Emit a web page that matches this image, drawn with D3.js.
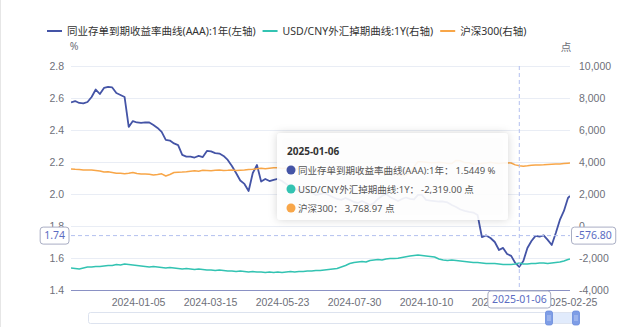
<!DOCTYPE html>
<html><head><meta charset="utf-8">
<script src="https://cdn.jsdelivr.net/npm/d3@7"></script>
<style>
html,body{margin:0;padding:0;background:#fff;}
svg{display:block;font-family:"Noto Sans","Noto Sans CJK SC",sans-serif;}
</style></head><body>
<svg id="c" width="640" height="327"></svg>
<script>
// ---------------- data ----------------
const seriesNames = ["同业存单到期收益率曲线(AAA):1年(左轴)", "USD/CNY外汇掉期曲线:1Y(右轴)", "沪深300(右轴)"];
const tooltipNames = ["同业存单到期收益率曲线(AAA):1年", "USD/CNY外汇掉期曲线:1Y", "沪深300"];
const tooltipUnits = [" %", " 点", " 点"];
const startDate = "2023-11-01", endDate = "2025-02-25", stepDays = 4;
const xTickLabels = ["2024-01-05","2024-03-15","2024-05-23","2024-07-30","2024-10-10","2024-12-16","2025-02-25"];
const leftTicks = [1.4,1.6,1.8,2.0,2.2,2.4,2.6,2.8];
const rightTicks = [-4000,-2000,0,2000,4000,6000,8000,10000];
const leftUnit = "%", rightUnit = "点";

const ncdYield = [
 2.573,2.581,2.569,2.566,2.575,2.606,2.653,2.625,2.663,2.669,
 2.666,2.631,2.619,2.606,2.419,2.456,2.447,2.444,2.447,2.447,
 2.431,2.413,2.388,2.338,2.334,2.316,2.306,2.244,2.234,2.234,
 2.228,2.238,2.231,2.269,2.266,2.256,2.253,2.238,2.213,2.175,
 2.131,2.084,2.063,2.019,2.131,2.181,2.078,2.094,2.081,2.088,
 2.094,2.081,2.063,2.044,2.031,2.025,2.013,2.019,2.006,1.994,
 2.000,2.006,1.994,1.981,1.969,1.963,1.975,1.963,1.950,1.944,
 1.956,1.944,1.931,1.944,1.969,1.988,2.000,1.981,1.969,1.956,
 1.969,1.978,1.969,1.966,1.994,1.994,1.963,1.959,1.956,1.953,
 1.953,1.947,1.931,1.919,1.903,1.894,1.888,1.884,1.869,1.731,
 1.741,1.725,1.700,1.650,1.663,1.625,1.613,1.569,1.5449,1.581,
 1.663,1.706,1.738,1.734,1.741,1.713,1.681,1.756,1.838,1.894,
 1.975,1.988];

const usdCnySwap = [
 -2625,-2656,-2688,-2625,-2563,-2563,-2531,-2531,-2500,-2469,
 -2469,-2406,-2438,-2375,-2406,-2438,-2469,-2500,-2531,-2563,
 -2531,-2563,-2594,-2625,-2594,-2625,-2656,-2688,-2656,-2688,
 -2719,-2688,-2719,-2750,-2750,-2781,-2750,-2781,-2813,-2813,
 -2844,-2813,-2844,-2875,-2844,-2875,-2875,-2906,-2875,-2906,
 -2875,-2906,-2875,-2844,-2875,-2844,-2844,-2813,-2813,-2781,
 -2781,-2750,-2719,-2688,-2656,-2563,-2469,-2344,-2281,-2250,
 -2219,-2250,-2156,-2125,-2094,-2125,-2063,-2031,-2031,-2019,
 -1969,-1919,-1875,-1844,-1813,-1844,-1875,-1906,-1938,-2063,
 -2125,-2156,-2125,-2156,-2188,-2219,-2250,-2281,-2281,-2313,
 -2344,-2344,-2344,-2375,-2406,-2406,-2406,-2375,-2319,-2375,
 -2375,-2344,-2344,-2313,-2313,-2344,-2313,-2281,-2250,-2188,
 -2094,-2063];

const hs300 = [
 3563,3544,3531,3500,3500,3500,3469,3438,3375,3394,
 3344,3294,3294,3269,3294,3344,3281,3250,3250,3231,
 3188,3219,3263,3125,3219,3344,3363,3375,3394,3425,
 3450,3425,3481,3469,3456,3481,3500,3469,3481,3500,
 3469,3488,3500,3531,3544,3575,3606,3575,3606,3638,
 3644,3600,3620,3580,3570,3560,3550,3520,3500,3460,
 3460,3470,3450,3430,3470,3490,3440,3390,3400,3390,
 3350,3340,3330,3340,3310,3300,3320,3240,3230,3180,
 3160,3200,3350,3700,4017,4017,3990,3960,3960,3980,
 3960,3900,3900,4100,4080,3960,3950,3870,3880,3920,
 3930,3980,3930,3910,3930,3950,3940,3820,3768.97,3740,
 3760,3790,3810,3820,3830,3850,3860,3870,3880,3900,
 3920,3930];

const pointerDate = "2025-01-06";
const pointerLeft = 1.74, pointerRight = -576.80;

// ---------------- layout / style ----------------
const colors = ["#4454a6", "#33c3b2", "#f8a648"];
const W = 640, H = 327;
const plotL = 71, plotR = 570, plotT = 66, plotB = 290, firstTickX = 138;

const parse = d3.timeParse("%Y-%m-%d");
const dates = d3.timeDay.range(parse(startDate), parse(endDate), stepDays);
dates.push(parse(endDate));

const locale = d3.formatLocale({decimal: ".", thousands: ",", grouping: [3], currency: ["", ""], minus: "-"});
const fmtR = locale.format(",");
const fmt2 = locale.format(",.2f");

const tickStep = (plotR - firstTickX) / (xTickLabels.length - 1);
const x = d3.scaleTime()
  .domain([parse(startDate), ...xTickLabels.map(parse)])
  .range([plotL, ...xTickLabels.map((d, i) => firstTickX + i * tickStep)]);
const yL = d3.scaleLinear().domain([1.4, 2.8]).range([plotB, plotT]);
const yR = d3.scaleLinear().domain([-4000, 10000]).range([plotB, plotT]);

const svg = d3.select("#c");
const defs = svg.append("defs");
defs.append("clipPath").attr("id", "clip").append("rect")
  .attr("x", plotL).attr("y", plotT - 5).attr("width", plotR - plotL).attr("height", plotB - plotT + 10);
const f = defs.append("filter").attr("id", "sh").attr("x", "-20%").attr("y", "-20%").attr("width", "140%").attr("height", "140%");
f.append("feDropShadow").attr("dx", 0).attr("dy", 0).attr("stdDeviation", 4).attr("flood-color", "#000").attr("flood-opacity", 0.18);

// left border line
svg.append("line").attr("x1", 0.5).attr("x2", 0.5).attr("y1", 0).attr("y2", H).attr("stroke", "#e6e6e6");

// grid
svg.append("g").selectAll("line").data(leftTicks.slice(1)).join("line")
  .attr("x1", plotL).attr("x2", plotR)
  .attr("y1", d => Math.round(yL(d)) + 0.5).attr("y2", d => Math.round(yL(d)) + 0.5)
  .attr("stroke", "#e9edf5").attr("stroke-width", 1);

// left axis labels
const axL = d3.axisLeft(yL).tickValues(leftTicks).tickFormat(d3.format(".1f")).tickSize(0).tickPadding(7);
const gL = svg.append("g").attr("transform", `translate(${plotL},0)`).call(axL);
gL.select(".domain").remove();
gL.selectAll("text").attr("fill", "#6e7079").attr("font-size", 10.5);

const axR = d3.axisRight(yR).tickValues(rightTicks).tickFormat(fmtR).tickSize(0).tickPadding(9);
const gR = svg.append("g").attr("transform", `translate(${plotR},0)`).call(axR);
gR.select(".domain").remove();
gR.selectAll("text").attr("fill", "#6e7079").attr("font-size", 10.5);

// units
svg.append("text").attr("x", plotL + 3).attr("y", 50).attr("text-anchor", "middle")
  .attr("font-size", 10.5).attr("fill", "#6e7079").text(leftUnit);
svg.append("text").attr("x", plotR - 4).attr("y", 51).attr("text-anchor", "middle")
  .attr("font-size", 10.5).attr("fill", "#6e7079").text(rightUnit);

// x axis
const axX = d3.axisBottom(x).tickValues(xTickLabels.map(parse)).tickFormat(d3.timeFormat("%Y-%m-%d")).tickSize(0).tickPadding(9);
const gX = svg.append("g").attr("transform", `translate(0,${plotB})`).call(axX);
gX.select(".domain").remove();
gX.selectAll("text").attr("fill", "#6e7079").attr("font-size", 10.5);
svg.append("line").attr("x1", plotL).attr("x2", plotR).attr("y1", plotB + 0.5).attr("y2", plotB + 0.5)
  .attr("stroke", "#8a91c4").attr("stroke-width", 1);

// series
const plot = svg.append("g").attr("clip-path", "url(#clip)");
const series = [
  {vals: ncdYield, y: yL, w: 1.8},
  {vals: usdCnySwap, y: yR, w: 1.5},
  {vals: hs300, y: yR, w: 1.5}
];
series.forEach((s, i) => {
  const line = d3.line().x((d, j) => x(dates[j])).y(d => s.y(d));
  plot.append("path").datum(s.vals).attr("d", line).attr("fill", "none")
    .attr("stroke", colors[i]).attr("stroke-width", s.w).attr("stroke-linejoin", "round");
});

// axis pointer
const px = x(parse(pointerDate));
const py = yL(pointerLeft);
svg.append("line").attr("x1", px).attr("x2", px).attr("y1", plotT).attr("y2", plotB)
  .attr("stroke", "#b3c0ef").attr("stroke-dasharray", "4,3").attr("stroke-width", 1);
svg.append("line").attr("x1", plotL).attr("x2", plotR).attr("y1", py).attr("y2", py)
  .attr("stroke", "#b3c0ef").attr("stroke-dasharray", "4,3").attr("stroke-width", 1);

function pointerLabel(cx, cy, txt, anchor) {
  const g = svg.append("g");
  const t = g.append("text").attr("font-size", 10.5).attr("fill", "#5b6cc2").text(txt);
  const w = t.node().getComputedTextLength() + 8, h = 17;
  let left = anchor === "end" ? cx - w : anchor === "start" ? cx : cx - w / 2;
  g.insert("rect", "text").attr("x", left).attr("y", cy - h / 2).attr("width", w).attr("height", h)
    .attr("rx", 3).attr("fill", "#fff").attr("stroke", "#a9aec4").attr("stroke-width", 1);
  t.attr("x", left + 4).attr("y", cy + 3.8);
}
pointerLabel(plotL - 2, py, d3.format(".2f")(pointerLeft), "end");
pointerLabel(plotR + 1.5, py, fmt2(pointerRight), "start");
pointerLabel(px, plotB + 8.5 + 1, pointerDate, "middle");

// tooltip
const ti = dates.findIndex(d => +d === +parse(pointerDate));
const tipVals = [d3.format(".4f")(ncdYield[ti]), fmt2(usdCnySwap[ti]), fmt2(hs300[ti])];
const tip = svg.append("g");
tip.append("rect").attr("x", 277).attr("y", 133).attr("width", 231).attr("height", 87).attr("rx", 4)
  .attr("fill", "#fff").attr("fill-opacity", 0.9).attr("filter", "url(#sh)");
tip.append("text").attr("x", 287).attr("y", 155).attr("font-size", 10).attr("font-weight", "bold")
  .attr("fill", "#333").text(pointerDate);
tooltipNames.forEach((n, i) => {
  const cy = 170 + i * 19;
  tip.append("circle").attr("cx", 291).attr("cy", cy).attr("r", 4.5).attr("fill", colors[i]);
  const t = tip.append("text").attr("x", 298).attr("y", cy + 3.5).attr("font-size", 9.5).attr("fill", "#555");
  t.append("tspan").text(n + "：");
  t.append("tspan").attr("dx", 2).text(tipVals[i] + tooltipUnits[i]);
});

// legend
let lx = 47;
seriesNames.forEach((n, i) => {
  svg.append("line").attr("x1", lx).attr("x2", lx + 15).attr("y1", 31).attr("y2", 31)
    .attr("stroke", colors[i]).attr("stroke-width", 2);
  const t = svg.append("text").attr("x", lx + 20).attr("y", 35).attr("font-size", 10.5).attr("fill", "#333").text(n);
  lx += 20 + t.node().getComputedTextLength() + 7;
});

// data zoom slider
const dz = svg.append("g");
dz.append("rect").attr("x", 88.5).attr("y", 312.5).attr("width", 487).attr("height", 11).attr("rx", 2)
  .attr("fill", "none").attr("stroke", "#dde3ef");
dz.append("rect").attr("x", 549).attr("y", 313).attr("width", 27).attr("height", 10)
  .attr("fill", "#87aff2").attr("fill-opacity", 0.25);
[549, 576].forEach(hx => {
  dz.append("rect").attr("x", hx - 3.5).attr("y", 311).attr("width", 7).attr("height", 14).attr("rx", 2)
    .attr("fill", "#7e9de6").attr("stroke", "#6a8bdc").attr("stroke-width", 0.8);
  dz.append("line").attr("x1", hx - 1).attr("x2", hx - 1).attr("y1", 315).attr("y2", 321).attr("stroke", "#c9d6f6").attr("stroke-width", 0.8);
  dz.append("line").attr("x1", hx + 1).attr("x2", hx + 1).attr("y1", 315).attr("y2", 321).attr("stroke", "#c9d6f6").attr("stroke-width", 0.8);
});
</script>
</body></html>
